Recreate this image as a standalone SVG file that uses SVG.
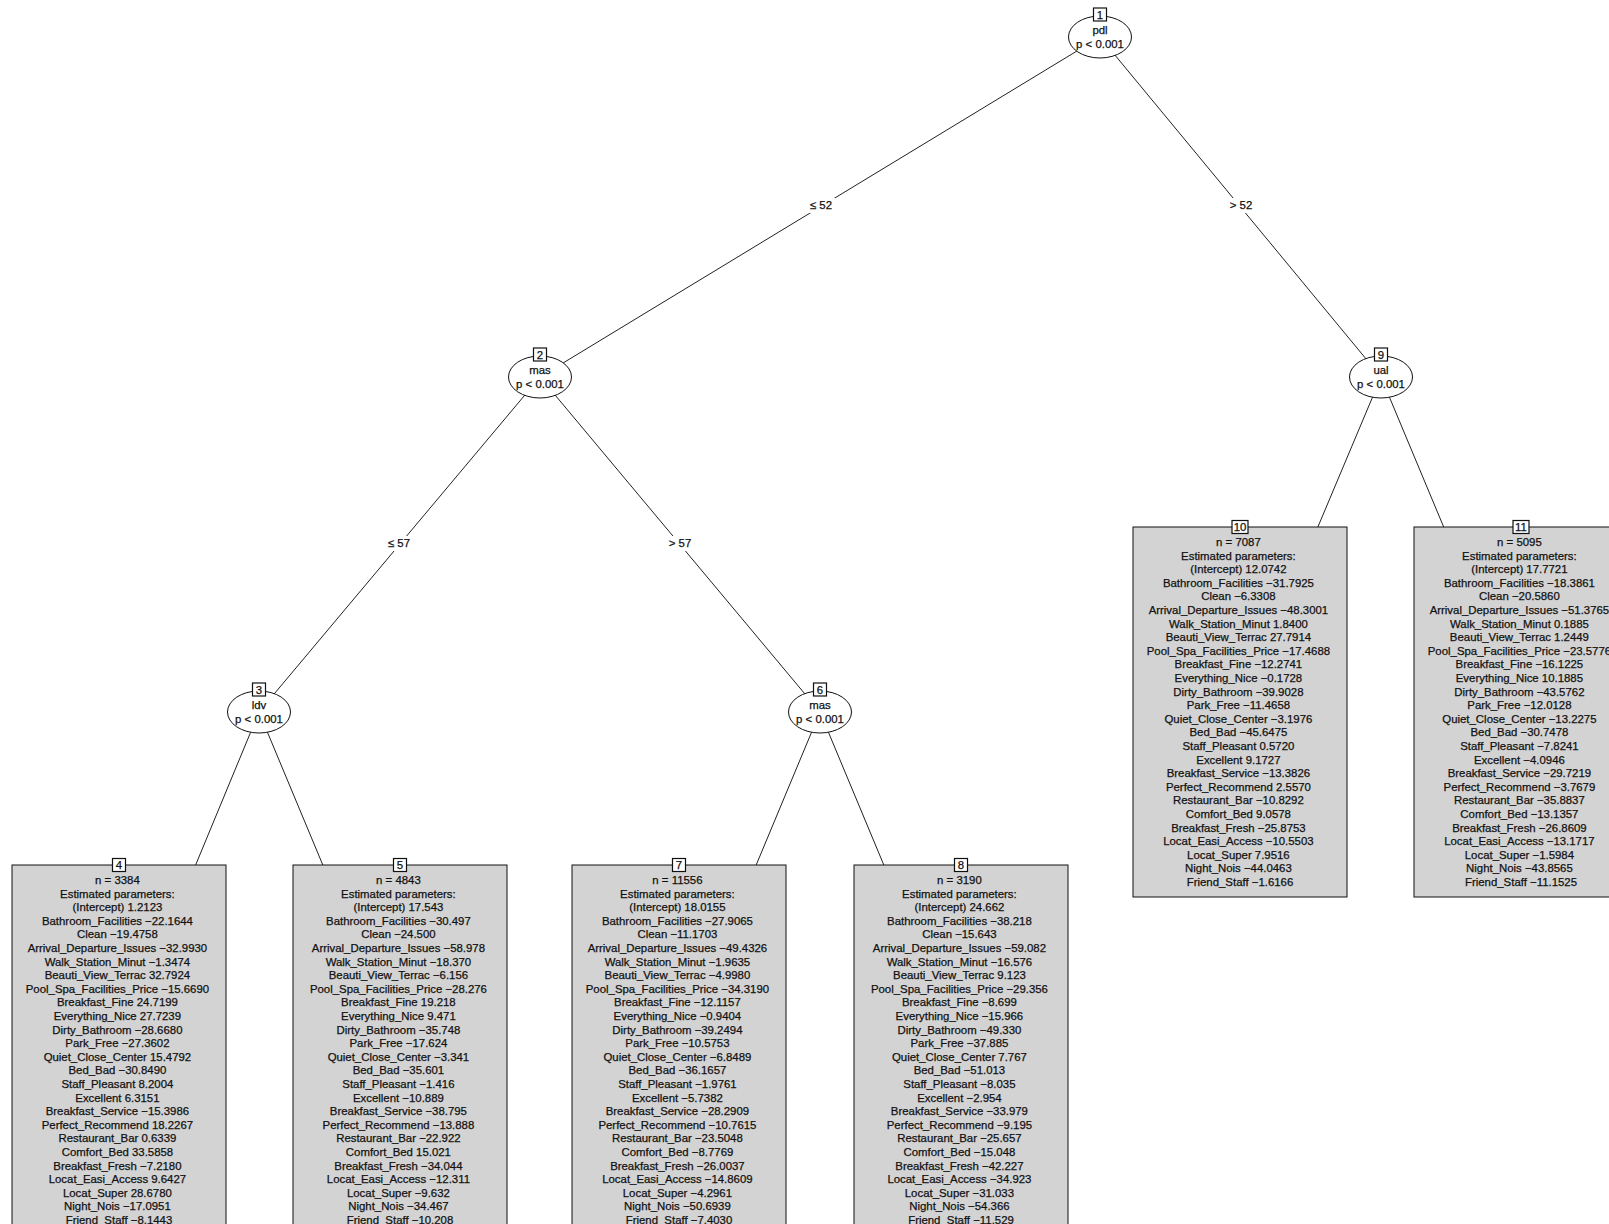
<svg xmlns="http://www.w3.org/2000/svg" width="1609" height="1224" viewBox="0 0 1609 1224">
  <style>
    text { font-family: "Liberation Sans", Arial, sans-serif; font-size: 11.4px; fill: #111; stroke: #111; stroke-width: 0.25; }
    .mid { text-anchor: middle; }
    .edge { stroke: #222; stroke-width: 1; fill: none; }
    .inner { fill: #fff; stroke: #111; stroke-width: 1; }
    .idbox { fill: #fff; stroke: #111; stroke-width: 1.2; }
    .leaf { fill: #d3d3d3; stroke: #111; stroke-width: 1; }
    .lblbg { fill: #fff; stroke: none; }
  </style>

  <!-- connectors: drawn centre to centre, nodes are painted over them -->
  <g id="connectors">
    <line class="edge" x1="1100" y1="37" x2="540" y2="377"/>
    <line class="edge" x1="1100" y1="37" x2="1381" y2="377"/>
    <line class="edge" x1="540" y1="377" x2="259" y2="712"/>
    <line class="edge" x1="540" y1="377" x2="820" y2="712"/>
    <line class="edge" x1="1381" y1="377" x2="1240" y2="712"/>
    <line class="edge" x1="1381" y1="377" x2="1521" y2="712"/>
    <line class="edge" x1="259" y1="712" x2="119" y2="1050"/>
    <line class="edge" x1="259" y1="712" x2="400" y2="1050"/>
    <line class="edge" x1="820" y1="712" x2="679" y2="1050"/>
    <line class="edge" x1="820" y1="712" x2="961" y2="1050"/>
    <!-- split labels -->
    <rect class="lblbg" x="807" y="198" width="28" height="15"/>
    <text class="mid" x="821" y="209">≤ 52</text>
    <rect class="lblbg" x="1227" y="198" width="28" height="15"/>
    <text class="mid" x="1241" y="209">&gt; 52</text>
    <rect class="lblbg" x="385" y="536" width="28" height="15"/>
    <text class="mid" x="399" y="547">≤ 57</text>
    <rect class="lblbg" x="666" y="536" width="28" height="15"/>
    <text class="mid" x="680" y="547">&gt; 57</text>
  </g>

  <!-- inner nodes -->
  <g id="node1">
    <ellipse class="inner" cx="1100" cy="37" rx="31.5" ry="21"/>
    <rect class="idbox" x="1093.5" y="8" width="13" height="13"/>
    <text class="mid" x="1100" y="18.5">1</text>
    <text class="mid" x="1100" y="34">pdl</text>
    <text class="mid" x="1100" y="47.5">p &lt; 0.001</text>
  </g>
  <g id="node2">
    <ellipse class="inner" cx="540" cy="377" rx="31.5" ry="21"/>
    <rect class="idbox" x="533.5" y="348" width="13" height="13"/>
    <text class="mid" x="540" y="358.5">2</text>
    <text class="mid" x="540" y="374">mas</text>
    <text class="mid" x="540" y="387.5">p &lt; 0.001</text>
  </g>
  <g id="node9">
    <ellipse class="inner" cx="1381" cy="377" rx="31.5" ry="21"/>
    <rect class="idbox" x="1374.5" y="348" width="13" height="13"/>
    <text class="mid" x="1381" y="358.5">9</text>
    <text class="mid" x="1381" y="374">ual</text>
    <text class="mid" x="1381" y="387.5">p &lt; 0.001</text>
  </g>
  <g id="node3">
    <ellipse class="inner" cx="259" cy="712" rx="31.5" ry="21"/>
    <rect class="idbox" x="252.5" y="683" width="13" height="13"/>
    <text class="mid" x="259" y="693.5">3</text>
    <text class="mid" x="259" y="709">ldv</text>
    <text class="mid" x="259" y="722.5">p &lt; 0.001</text>
  </g>
  <g id="node6">
    <ellipse class="inner" cx="820" cy="712" rx="31.5" ry="21"/>
    <rect class="idbox" x="813.5" y="683" width="13" height="13"/>
    <text class="mid" x="820" y="693.5">6</text>
    <text class="mid" x="820" y="709">mas</text>
    <text class="mid" x="820" y="722.5">p &lt; 0.001</text>
  </g>

  <!-- terminal nodes -->
  <g id="node4">
    <rect class="leaf" x="12" y="865" width="214" height="370"/>
    <text class="mid" y="884">
      <tspan x="119" dy="0">n = 3384</tspan>
      <tspan x="119" dy="13.6">Estimated parameters:</tspan>
      <tspan x="119" dy="13.6">(Intercept) 1.2123</tspan>
      <tspan x="119" dy="13.6">Bathroom_Facilities −22.1644</tspan>
      <tspan x="119" dy="13.6">Clean −19.4758</tspan>
      <tspan x="119" dy="13.6">Arrival_Departure_Issues −32.9930</tspan>
      <tspan x="119" dy="13.6">Walk_Station_Minut −1.3474</tspan>
      <tspan x="119" dy="13.6">Beauti_View_Terrac 32.7924</tspan>
      <tspan x="119" dy="13.6">Pool_Spa_Facilities_Price −15.6690</tspan>
      <tspan x="119" dy="13.6">Breakfast_Fine 24.7199</tspan>
      <tspan x="119" dy="13.6">Everything_Nice 27.7239</tspan>
      <tspan x="119" dy="13.6">Dirty_Bathroom −28.6680</tspan>
      <tspan x="119" dy="13.6">Park_Free −27.3602</tspan>
      <tspan x="119" dy="13.6">Quiet_Close_Center 15.4792</tspan>
      <tspan x="119" dy="13.6">Bed_Bad −30.8490</tspan>
      <tspan x="119" dy="13.6">Staff_Pleasant 8.2004</tspan>
      <tspan x="119" dy="13.6">Excellent 6.3151</tspan>
      <tspan x="119" dy="13.6">Breakfast_Service −15.3986</tspan>
      <tspan x="119" dy="13.6">Perfect_Recommend 18.2267</tspan>
      <tspan x="119" dy="13.6">Restaurant_Bar 0.6339</tspan>
      <tspan x="119" dy="13.6">Comfort_Bed 33.5858</tspan>
      <tspan x="119" dy="13.6">Breakfast_Fresh −7.2180</tspan>
      <tspan x="119" dy="13.6">Locat_Easi_Access 9.6427</tspan>
      <tspan x="119" dy="13.6">Locat_Super 28.6780</tspan>
      <tspan x="119" dy="13.6">Night_Nois −17.0951</tspan>
      <tspan x="119" dy="13.6">Friend_Staff −8.1443</tspan>
    </text>
    <rect class="idbox" x="112.5" y="858.5" width="13" height="13"/>
    <text class="mid" x="119" y="869">4</text>
  </g>
  <g id="node5">
    <rect class="leaf" x="293" y="865" width="214" height="370"/>
    <text class="mid" y="884">
      <tspan x="400" dy="0">n = 4843</tspan>
      <tspan x="400" dy="13.6">Estimated parameters:</tspan>
      <tspan x="400" dy="13.6">(Intercept) 17.543</tspan>
      <tspan x="400" dy="13.6">Bathroom_Facilities −30.497</tspan>
      <tspan x="400" dy="13.6">Clean −24.500</tspan>
      <tspan x="400" dy="13.6">Arrival_Departure_Issues −58.978</tspan>
      <tspan x="400" dy="13.6">Walk_Station_Minut −18.370</tspan>
      <tspan x="400" dy="13.6">Beauti_View_Terrac −6.156</tspan>
      <tspan x="400" dy="13.6">Pool_Spa_Facilities_Price −28.276</tspan>
      <tspan x="400" dy="13.6">Breakfast_Fine 19.218</tspan>
      <tspan x="400" dy="13.6">Everything_Nice 9.471</tspan>
      <tspan x="400" dy="13.6">Dirty_Bathroom −35.748</tspan>
      <tspan x="400" dy="13.6">Park_Free −17.624</tspan>
      <tspan x="400" dy="13.6">Quiet_Close_Center −3.341</tspan>
      <tspan x="400" dy="13.6">Bed_Bad −35.601</tspan>
      <tspan x="400" dy="13.6">Staff_Pleasant −1.416</tspan>
      <tspan x="400" dy="13.6">Excellent −10.889</tspan>
      <tspan x="400" dy="13.6">Breakfast_Service −38.795</tspan>
      <tspan x="400" dy="13.6">Perfect_Recommend −13.888</tspan>
      <tspan x="400" dy="13.6">Restaurant_Bar −22.922</tspan>
      <tspan x="400" dy="13.6">Comfort_Bed 15.021</tspan>
      <tspan x="400" dy="13.6">Breakfast_Fresh −34.044</tspan>
      <tspan x="400" dy="13.6">Locat_Easi_Access −12.311</tspan>
      <tspan x="400" dy="13.6">Locat_Super −9.632</tspan>
      <tspan x="400" dy="13.6">Night_Nois −34.467</tspan>
      <tspan x="400" dy="13.6">Friend_Staff −10.208</tspan>
    </text>
    <rect class="idbox" x="393.5" y="858.5" width="13" height="13"/>
    <text class="mid" x="400" y="869">5</text>
  </g>
  <g id="node7">
    <rect class="leaf" x="572" y="865" width="214" height="370"/>
    <text class="mid" y="884">
      <tspan x="679" dy="0">n = 11556</tspan>
      <tspan x="679" dy="13.6">Estimated parameters:</tspan>
      <tspan x="679" dy="13.6">(Intercept) 18.0155</tspan>
      <tspan x="679" dy="13.6">Bathroom_Facilities −27.9065</tspan>
      <tspan x="679" dy="13.6">Clean −11.1703</tspan>
      <tspan x="679" dy="13.6">Arrival_Departure_Issues −49.4326</tspan>
      <tspan x="679" dy="13.6">Walk_Station_Minut −1.9635</tspan>
      <tspan x="679" dy="13.6">Beauti_View_Terrac −4.9980</tspan>
      <tspan x="679" dy="13.6">Pool_Spa_Facilities_Price −34.3190</tspan>
      <tspan x="679" dy="13.6">Breakfast_Fine −12.1157</tspan>
      <tspan x="679" dy="13.6">Everything_Nice −0.9404</tspan>
      <tspan x="679" dy="13.6">Dirty_Bathroom −39.2494</tspan>
      <tspan x="679" dy="13.6">Park_Free −10.5753</tspan>
      <tspan x="679" dy="13.6">Quiet_Close_Center −6.8489</tspan>
      <tspan x="679" dy="13.6">Bed_Bad −36.1657</tspan>
      <tspan x="679" dy="13.6">Staff_Pleasant −1.9761</tspan>
      <tspan x="679" dy="13.6">Excellent −5.7382</tspan>
      <tspan x="679" dy="13.6">Breakfast_Service −28.2909</tspan>
      <tspan x="679" dy="13.6">Perfect_Recommend −10.7615</tspan>
      <tspan x="679" dy="13.6">Restaurant_Bar −23.5048</tspan>
      <tspan x="679" dy="13.6">Comfort_Bed −8.7769</tspan>
      <tspan x="679" dy="13.6">Breakfast_Fresh −26.0037</tspan>
      <tspan x="679" dy="13.6">Locat_Easi_Access −14.8609</tspan>
      <tspan x="679" dy="13.6">Locat_Super −4.2961</tspan>
      <tspan x="679" dy="13.6">Night_Nois −50.6939</tspan>
      <tspan x="679" dy="13.6">Friend_Staff −7.4030</tspan>
    </text>
    <rect class="idbox" x="672.5" y="858.5" width="13" height="13"/>
    <text class="mid" x="679" y="869">7</text>
  </g>
  <g id="node8">
    <rect class="leaf" x="854" y="865" width="214" height="370"/>
    <text class="mid" y="884">
      <tspan x="961" dy="0">n = 3190</tspan>
      <tspan x="961" dy="13.6">Estimated parameters:</tspan>
      <tspan x="961" dy="13.6">(Intercept) 24.662</tspan>
      <tspan x="961" dy="13.6">Bathroom_Facilities −38.218</tspan>
      <tspan x="961" dy="13.6">Clean −15.643</tspan>
      <tspan x="961" dy="13.6">Arrival_Departure_Issues −59.082</tspan>
      <tspan x="961" dy="13.6">Walk_Station_Minut −16.576</tspan>
      <tspan x="961" dy="13.6">Beauti_View_Terrac 9.123</tspan>
      <tspan x="961" dy="13.6">Pool_Spa_Facilities_Price −29.356</tspan>
      <tspan x="961" dy="13.6">Breakfast_Fine −8.699</tspan>
      <tspan x="961" dy="13.6">Everything_Nice −15.966</tspan>
      <tspan x="961" dy="13.6">Dirty_Bathroom −49.330</tspan>
      <tspan x="961" dy="13.6">Park_Free −37.885</tspan>
      <tspan x="961" dy="13.6">Quiet_Close_Center 7.767</tspan>
      <tspan x="961" dy="13.6">Bed_Bad −51.013</tspan>
      <tspan x="961" dy="13.6">Staff_Pleasant −8.035</tspan>
      <tspan x="961" dy="13.6">Excellent −2.954</tspan>
      <tspan x="961" dy="13.6">Breakfast_Service −33.979</tspan>
      <tspan x="961" dy="13.6">Perfect_Recommend −9.195</tspan>
      <tspan x="961" dy="13.6">Restaurant_Bar −25.657</tspan>
      <tspan x="961" dy="13.6">Comfort_Bed −15.048</tspan>
      <tspan x="961" dy="13.6">Breakfast_Fresh −42.227</tspan>
      <tspan x="961" dy="13.6">Locat_Easi_Access −34.923</tspan>
      <tspan x="961" dy="13.6">Locat_Super −31.033</tspan>
      <tspan x="961" dy="13.6">Night_Nois −54.366</tspan>
      <tspan x="961" dy="13.6">Friend_Staff −11.529</tspan>
    </text>
    <rect class="idbox" x="954.5" y="858.5" width="13" height="13"/>
    <text class="mid" x="961" y="869">8</text>
  </g>
  <g id="node10">
    <rect class="leaf" x="1133" y="527" width="214" height="370"/>
    <text class="mid" y="546">
      <tspan x="1240" dy="0">n = 7087</tspan>
      <tspan x="1240" dy="13.6">Estimated parameters:</tspan>
      <tspan x="1240" dy="13.6">(Intercept) 12.0742</tspan>
      <tspan x="1240" dy="13.6">Bathroom_Facilities −31.7925</tspan>
      <tspan x="1240" dy="13.6">Clean −6.3308</tspan>
      <tspan x="1240" dy="13.6">Arrival_Departure_Issues −48.3001</tspan>
      <tspan x="1240" dy="13.6">Walk_Station_Minut 1.8400</tspan>
      <tspan x="1240" dy="13.6">Beauti_View_Terrac 27.7914</tspan>
      <tspan x="1240" dy="13.6">Pool_Spa_Facilities_Price −17.4688</tspan>
      <tspan x="1240" dy="13.6">Breakfast_Fine −12.2741</tspan>
      <tspan x="1240" dy="13.6">Everything_Nice −0.1728</tspan>
      <tspan x="1240" dy="13.6">Dirty_Bathroom −39.9028</tspan>
      <tspan x="1240" dy="13.6">Park_Free −11.4658</tspan>
      <tspan x="1240" dy="13.6">Quiet_Close_Center −3.1976</tspan>
      <tspan x="1240" dy="13.6">Bed_Bad −45.6475</tspan>
      <tspan x="1240" dy="13.6">Staff_Pleasant 0.5720</tspan>
      <tspan x="1240" dy="13.6">Excellent 9.1727</tspan>
      <tspan x="1240" dy="13.6">Breakfast_Service −13.3826</tspan>
      <tspan x="1240" dy="13.6">Perfect_Recommend 2.5570</tspan>
      <tspan x="1240" dy="13.6">Restaurant_Bar −10.8292</tspan>
      <tspan x="1240" dy="13.6">Comfort_Bed 9.0578</tspan>
      <tspan x="1240" dy="13.6">Breakfast_Fresh −25.8753</tspan>
      <tspan x="1240" dy="13.6">Locat_Easi_Access −10.5503</tspan>
      <tspan x="1240" dy="13.6">Locat_Super 7.9516</tspan>
      <tspan x="1240" dy="13.6">Night_Nois −44.0463</tspan>
      <tspan x="1240" dy="13.6">Friend_Staff −1.6166</tspan>
    </text>
    <rect class="idbox" x="1232" y="520.5" width="16" height="13"/>
    <text class="mid" x="1240" y="531">10</text>
  </g>
  <g id="node11">
    <rect class="leaf" x="1414" y="527" width="214" height="370"/>
    <text class="mid" y="546">
      <tspan x="1521" dy="0">n = 5095</tspan>
      <tspan x="1521" dy="13.6">Estimated parameters:</tspan>
      <tspan x="1521" dy="13.6">(Intercept) 17.7721</tspan>
      <tspan x="1521" dy="13.6">Bathroom_Facilities −18.3861</tspan>
      <tspan x="1521" dy="13.6">Clean −20.5860</tspan>
      <tspan x="1521" dy="13.6">Arrival_Departure_Issues −51.3765</tspan>
      <tspan x="1521" dy="13.6">Walk_Station_Minut 0.1885</tspan>
      <tspan x="1521" dy="13.6">Beauti_View_Terrac 1.2449</tspan>
      <tspan x="1521" dy="13.6">Pool_Spa_Facilities_Price −23.5776</tspan>
      <tspan x="1521" dy="13.6">Breakfast_Fine −16.1225</tspan>
      <tspan x="1521" dy="13.6">Everything_Nice 10.1885</tspan>
      <tspan x="1521" dy="13.6">Dirty_Bathroom −43.5762</tspan>
      <tspan x="1521" dy="13.6">Park_Free −12.0128</tspan>
      <tspan x="1521" dy="13.6">Quiet_Close_Center −13.2275</tspan>
      <tspan x="1521" dy="13.6">Bed_Bad −30.7478</tspan>
      <tspan x="1521" dy="13.6">Staff_Pleasant −7.8241</tspan>
      <tspan x="1521" dy="13.6">Excellent −4.0946</tspan>
      <tspan x="1521" dy="13.6">Breakfast_Service −29.7219</tspan>
      <tspan x="1521" dy="13.6">Perfect_Recommend −3.7679</tspan>
      <tspan x="1521" dy="13.6">Restaurant_Bar −35.8837</tspan>
      <tspan x="1521" dy="13.6">Comfort_Bed −13.1357</tspan>
      <tspan x="1521" dy="13.6">Breakfast_Fresh −26.8609</tspan>
      <tspan x="1521" dy="13.6">Locat_Easi_Access −13.1717</tspan>
      <tspan x="1521" dy="13.6">Locat_Super −1.5984</tspan>
      <tspan x="1521" dy="13.6">Night_Nois −43.8565</tspan>
      <tspan x="1521" dy="13.6">Friend_Staff −11.1525</tspan>
    </text>
    <rect class="idbox" x="1513" y="520.5" width="16" height="13"/>
    <text class="mid" x="1521" y="531">11</text>
  </g>
</svg>
